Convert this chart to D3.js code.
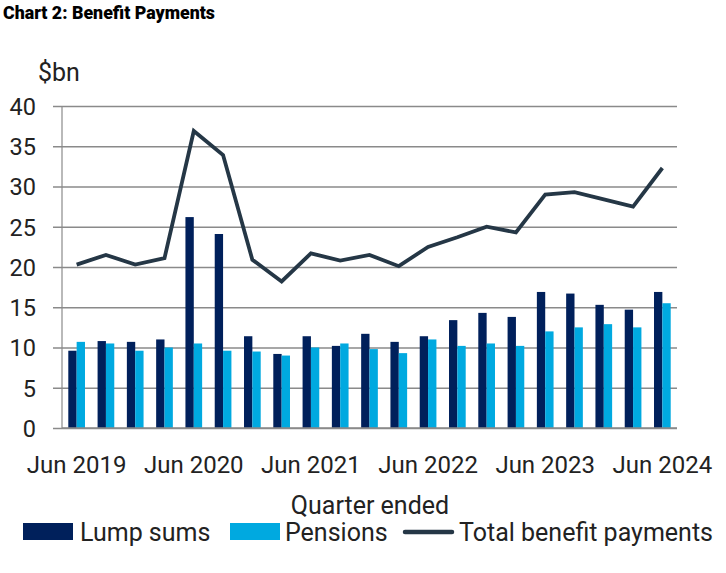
<!DOCTYPE html>
<html><head><meta charset="utf-8">
<script src="https://cdn.jsdelivr.net/npm/d3@7"></script>
<style>body{margin:0;background:#fff}svg{display:block}</style>
</head><body>
<script>
const quarters = ["Jun 2019","Sep 2019","Dec 2019","Mar 2020","Jun 2020","Sep 2020","Dec 2020","Mar 2021","Jun 2021","Sep 2021","Dec 2021","Mar 2022","Jun 2022","Sep 2022","Dec 2022","Mar 2023","Jun 2023","Sep 2023","Dec 2023","Mar 2024","Jun 2024"];
const lumpSums = [9.6,10.8,10.7,11.0,26.2,24.1,11.4,9.2,11.4,10.2,11.7,10.7,11.4,13.4,14.3,13.8,16.9,16.7,15.3,14.7,16.9];
const pensions = [10.7,10.5,9.6,10.0,10.5,9.6,9.5,9.0,10.0,10.5,9.8,9.3,11.0,10.2,10.5,10.2,12.0,12.5,12.9,12.5,15.5];
const totals = [20.3,21.5,20.3,21.1,36.9,33.9,20.9,18.2,21.7,20.8,21.5,20.1,22.5,23.7,25.0,24.3,29.0,29.3,28.4,27.5,32.3];
const yTicks = [0,5,10,15,20,25,30,35,40];
const xTickLabels = ["Jun 2019","Jun 2020","Jun 2021","Jun 2022","Jun 2023","Jun 2024"];

const W = 726, H = 573;
const m = {left:62, right:49, top:106, bottom:145};
const font = "Roboto, 'Liberation Sans', sans-serif";
const cLump = "#00205B", cPen = "#00A9E0", cLine = "#253746", cGrid = "#8a8a8a", cText = "#222";

const svg = d3.select("body").append("svg").attr("width",W).attr("height",H);

svg.append("text").attr("x",3).attr("y",19).text("Chart 2: Benefit Payments")
  .attr("font-family",font).attr("font-weight",900).attr("font-size",17.8).attr("fill","#000");

const x0 = d3.scaleBand().domain(quarters).range([m.left, W-m.right]).paddingInner(0.43).paddingOuter(0.215);
const x1 = d3.scaleBand().domain(["lump","pen"]).range([0, x0.bandwidth()]);
const y = d3.scaleLinear().domain([0,40]).range([H-m.bottom, m.top]);

// gridlines + y labels
const yAxis = d3.axisLeft(y).tickValues(yTicks).tickSize(-(W-m.right-m.left)-9).tickFormat(d3.format("d"));
const gy = svg.append("g").attr("transform",`translate(${m.left-9},0)`).call(yAxis);
gy.select(".domain").remove();
gy.selectAll(".tick line").attr("stroke",cGrid).attr("stroke-width",1.6);
gy.selectAll(".tick text").attr("font-family",font).attr("font-size",23.5).attr("fill",cText).attr("x",-17).attr("dy","0.36em");

// left axis line
svg.append("line").attr("x1",m.left).attr("x2",m.left).attr("y1",y(40)).attr("y2",y(0)).attr("stroke",cGrid).attr("stroke-width",1.2);

svg.append("text").attr("x",38).attr("y",81).text("$bn").attr("font-family",font).attr("font-size",25).attr("fill",cText);

// bars
const g = svg.append("g");
quarters.forEach((q,i)=>{
  g.append("rect").attr("x",x0(q)+x1("lump")).attr("width",x1.bandwidth()).attr("y",y(lumpSums[i])).attr("height",y(0)-y(lumpSums[i])).attr("fill",cLump);
  g.append("rect").attr("x",x0(q)+x1("pen")).attr("width",x1.bandwidth()).attr("y",y(pensions[i])).attr("height",y(0)-y(pensions[i])).attr("fill",cPen);
});

// line
const line = d3.line().x((d,i)=>x0(quarters[i])+x0.bandwidth()/2).y(d=>y(d));
svg.append("path").datum(totals).attr("d",line).attr("fill","none").attr("stroke",cLine).attr("stroke-width",3.8).attr("stroke-linejoin","miter");

// x axis
const xAxis = d3.axisBottom(x0).tickValues(xTickLabels).tickSize(0).tickPadding(0);
const gx = svg.append("g").attr("transform",`translate(0,${y(0)})`).call(xAxis);
gx.select(".domain").attr("stroke",cGrid).attr("stroke-width",1.6).attr("d",`M${m.left},0H${W-m.right}`);
gx.selectAll(".tick text").attr("font-family",font).attr("font-size",24).attr("fill",cText).attr("y",45).attr("dy",0);

svg.append("text").attr("x",370).attr("y",514).attr("text-anchor","middle").text("Quarter ended")
  .attr("font-family",font).attr("font-size",25).attr("fill",cText);

// legend
const lg = svg.append("g").attr("font-family",font).attr("font-size",25).attr("fill",cText);
lg.append("rect").attr("x",23).attr("y",523).attr("width",50).attr("height",17).attr("fill",cLump);
lg.append("text").attr("x",80).attr("y",541).text("Lump sums");
lg.append("rect").attr("x",230).attr("y",523).attr("width",50).attr("height",17).attr("fill",cPen);
lg.append("text").attr("x",285).attr("y",541).text("Pensions");
lg.append("line").attr("x1",405).attr("x2",452).attr("y1",532).attr("y2",532).attr("stroke",cLine).attr("stroke-width",4.5).attr("stroke-linecap","round");
lg.append("text").attr("x",459).attr("y",541).text("Total benefit payments");
</script>
</body></html>
